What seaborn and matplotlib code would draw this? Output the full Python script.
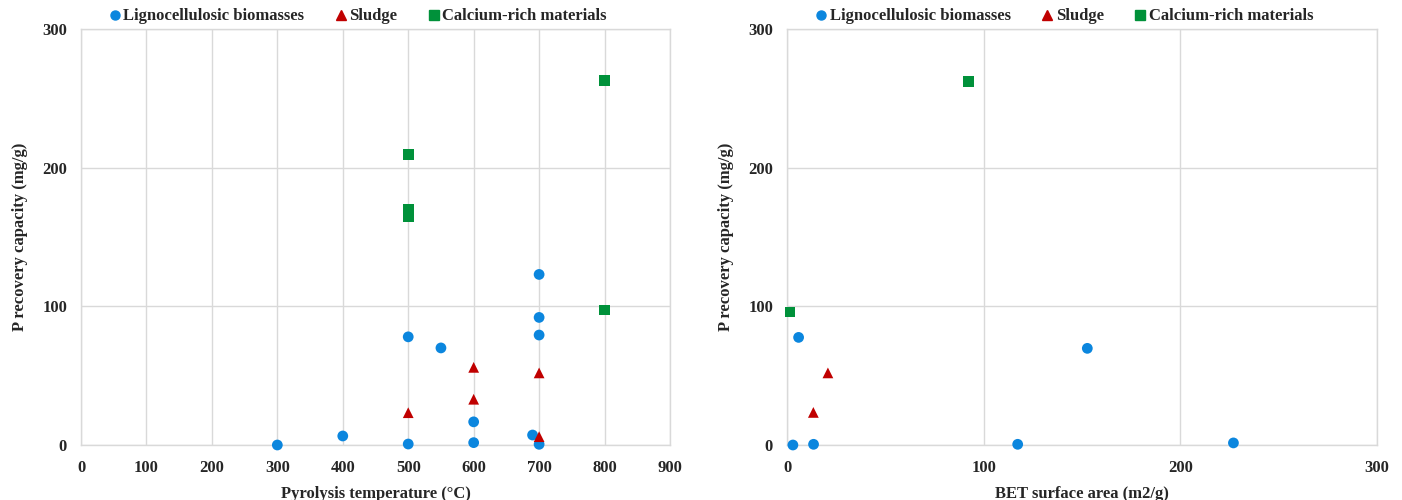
import pandas as pd
import seaborn as sns
import matplotlib.pyplot as plt
from matplotlib.lines import Line2D

# left panel: pyrolysis temperature vs P recovery
ligno_temp = [300, 400, 500, 500, 550, 600, 600, 690, 700, 700, 700, 700]
ligno_temp_p = [0, 6.5, 78, 0.7, 70, 16.7, 1.7, 7.2, 123, 92, 79.3, 0.5]
sludge_temp = [500, 600, 600, 700, 700]
sludge_temp_p = [23.3, 56, 33, 52, 6]
calcium_temp = [500, 500, 500, 800, 800]
calcium_temp_p = [209.5, 170, 165, 263, 97.3]

# right panel: BET surface area vs P recovery
ligno_bet = [3, 5.9, 13.5, 117.3, 152.7, 227]
ligno_bet_p = [0, 77.6, 0.5, 0.5, 69.7, 1.5]
sludge_bet = [13.4, 20.8]
sludge_bet_p = [23.5, 52]
calcium_bet = [1.5, 92.4]
calcium_bet_p = [96, 262]

groups = ["Lignocellulosic biomasses", "Sludge", "Calcium-rich materials"]
colors = {"Lignocellulosic biomasses": "#0B86DE",
          "Sludge": "#C00000",
          "Calcium-rich materials": "#00913A"}
markers = {"Lignocellulosic biomasses": "o",
           "Sludge": "^",
           "Calcium-rich materials": "s"}


def make_frame(xs, ys):
    rows = []
    for g, x, y in zip(groups, xs, ys):
        for a, b in zip(x, y):
            rows.append({"x": a, "y": b, "group": g})
    return pd.DataFrame(rows)


left = make_frame([ligno_temp, sludge_temp, calcium_temp],
                  [ligno_temp_p, sludge_temp_p, calcium_temp_p])
right = make_frame([ligno_bet, sludge_bet, calcium_bet],
                   [ligno_bet_p, sludge_bet_p, calcium_bet_p])

sns.set_theme(style="whitegrid")
plt.rcParams['font.family'] = ['Liberation Serif', 'DejaVu Serif']
plt.rcParams['font.weight'] = 'bold'

fig = plt.figure(figsize=(14.02, 5), dpi=100)
ax1 = fig.add_axes([81 / 1402, 55 / 500, 589 / 1402, 416 / 500])
ax2 = fig.add_axes([787 / 1402, 55 / 500, 590 / 1402, 416 / 500])


def draw(ax, data, xlim, xticks, xlabel):
    sns.scatterplot(data=data, x="x", y="y", hue="group", style="group",
                    palette=colors, markers=markers, hue_order=groups,
                    style_order=groups, s=60, linewidth=0, ax=ax,
                    legend=False, clip_on=False, zorder=3)
    ax.set_xlim(*xlim)
    ax.set_ylim(0, 300)
    ax.set_xticks(xticks)
    ax.set_yticks([0, 100, 200, 300])
    ax.grid(True, color="#D9D9D9", linewidth=1)
    for s in ax.spines.values():
        s.set_color("#D9D9D9")
        s.set_linewidth(1)
    ax.tick_params(axis="both", labelsize=12, length=0)
    ax.tick_params(axis="x", pad=11)
    ax.tick_params(axis="y", pad=10)
    for lab in ax.get_xticklabels() + ax.get_yticklabels():
        lab.set_fontweight("bold")
    ax.set_xlabel(xlabel, fontsize=12, fontweight="bold", labelpad=7)
    ax.set_ylabel("P recovery capacity (mg/g)", fontsize=12,
                  fontweight="bold", labelpad=10)

    handles = [Line2D([], [], marker=markers[g], color=colors[g],
                      linestyle="", markersize=6.5) for g in groups]
    ax.legend(handles, groups, loc="lower center", bbox_to_anchor=(0.465, 0.995),
              ncol=3, frameon=False, handletextpad=-0.2, columnspacing=1.5,
              handlelength=1.4, prop={"size": 12, "weight": "bold"},
              borderaxespad=0)


draw(ax1, left, (0, 900), range(0, 901, 100), "Pyrolysis temperature (°C)")
draw(ax2, right, (0, 300), [0, 100, 200, 300], "BET surface area (m2/g)")

plt.savefig("out.png", dpi=100)
